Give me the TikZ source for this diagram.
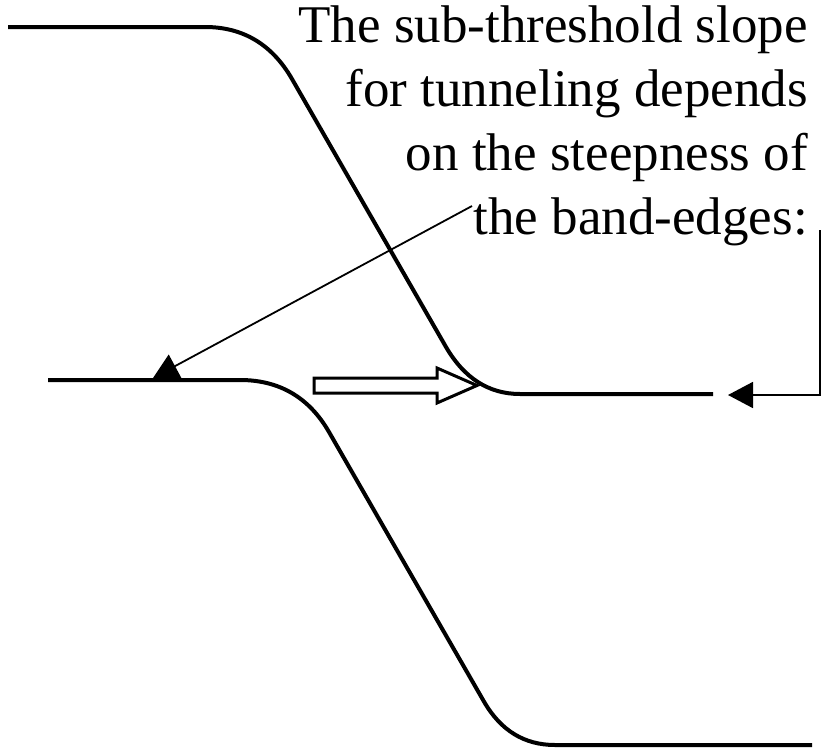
\documentclass[tikz,border=0pt]{standalone}
\usepackage{fontspec}
\setmainfont{Liberation Serif}
\usetikzlibrary{arrows.meta}
\begin{document}
\begin{tikzpicture}[x=1pt,y=-1pt,
  band/.style={line width=4pt},
  thinarrow/.style={line width=1.8pt,-{Triangle[length=25pt,width=26pt]}},
  hollow/.style={line width=3pt,fill=white,line join=miter}]
\useasboundingbox (0,0) rectangle (824,755);
% conduction band
\draw[band] (8,27) -- (205,27) .. controls (243,27) and (272,44.3) .. (292,79)
  -- (445.6,346.3) .. controls (463.9,378.1) and (488.7,394) .. (520,394) -- (713,394);
% valence band
\draw[band] (48,380) -- (240,380) .. controls (279.3,380) and (309,397.3) .. (329,432)
  -- (484,701.6) .. controls (500.7,730.5) and (524.3,745) .. (555,745) -- (812,745);
% text
\node[anchor=north east, inner sep=0pt, align=right,
  font=\fontsize{53}{64}\selectfont] (txt) at (808,6)
  {The sub-threshold slope\\for tunneling depends\\on the steepness of\\the band-edges:};
% arrows
\coordinate (a1s) at (472,206);
\coordinate (a1e) at (153,378);
\draw[thinarrow] (a1s) -- (a1e);
\coordinate (a2s) at (820,230);
\coordinate (a2c) at (820,395);
\coordinate (a2e) at (728,395);
\draw[thinarrow] (a2s) -- (a2c) -- (a2e);
% hollow arrow
\draw[hollow] (314,378) -- (437,378) -- (437,368) -- (477,385.5) -- (437,403) -- (437,393) -- (314,393) -- cycle;
\end{tikzpicture}
\end{document}
